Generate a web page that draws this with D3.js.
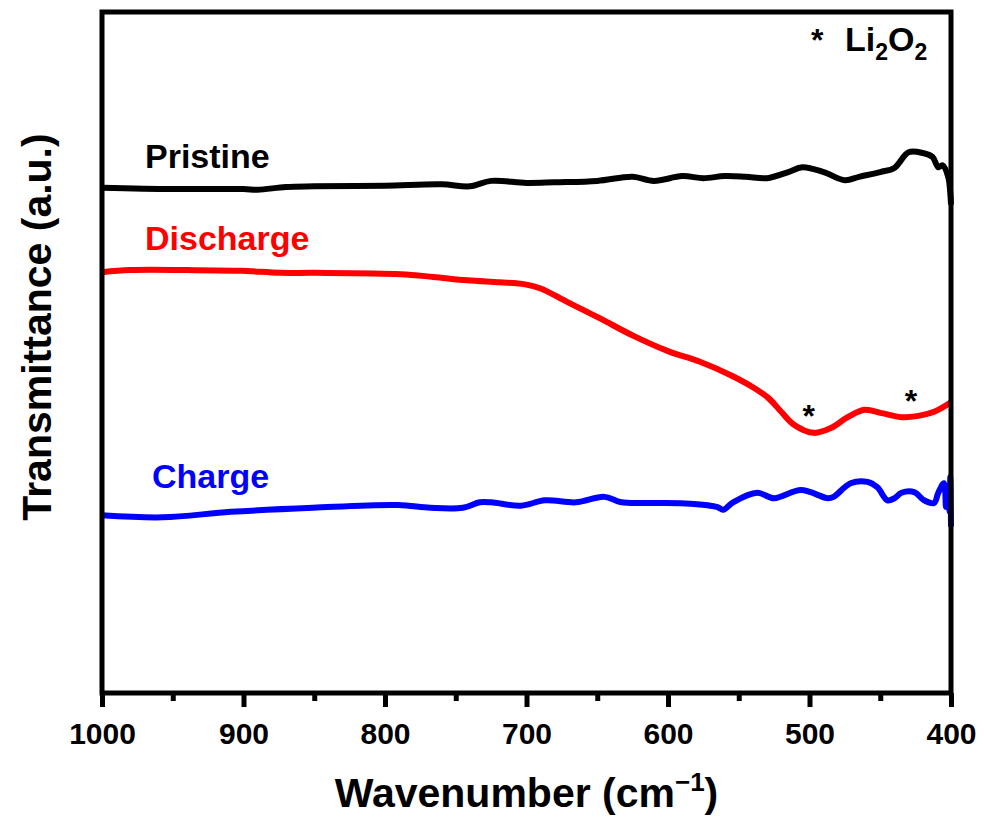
<!DOCTYPE html>
<html>
<head>
<meta charset="utf-8">
<script src="https://cdn.jsdelivr.net/npm/d3@7"></script>
<style>
  body { margin: 0; background: #fff; }
  text { font-family: "Liberation Sans", Arial, sans-serif; font-weight: bold; }
</style>
</head>
<body>
<div id="chart"></div>
<script>
// FTIR spectra, wavenumber (cm-1) vs transmittance (a.u.)
var pristineWn = [1000, 950, 900, 890, 870, 850, 800, 760, 740, 725, 700, 680, 650, 625, 610, 590, 575, 560, 545, 530, 515, 505, 490, 475, 465, 450, 440, 430, 420, 413, 409, 406, 402, 400.5, 400];
var pristineT = [74.2, 74.0, 74.0, 73.9, 74.3, 74.4, 74.5, 74.7, 74.4, 75.2, 74.9, 75.0, 75.2, 75.8, 75.2, 75.9, 75.6, 75.9, 75.8, 75.6, 76.5, 77.2, 76.5, 75.3, 75.8, 76.5, 77.1, 79.4, 79.3, 78.7, 77.2, 77.5, 75.8, 73.4, 71.7];

var dischargeWn = [1000, 980, 940, 902, 874, 849, 789, 766, 742, 719, 701, 690, 671, 648, 624, 600, 577, 556, 540, 529, 520, 511, 497, 485, 473, 461, 449, 435, 423, 412, 400];
var dischargeT = [61.8, 62.1, 62.1, 62.0, 61.7, 61.7, 61.5, 61.1, 60.6, 60.3, 60.0, 59.4, 57.4, 55.0, 52.4, 50.2, 48.6, 46.7, 44.9, 43.3, 41.3, 39.4, 38.2, 38.9, 40.5, 41.6, 41.1, 40.5, 40.7, 41.3, 42.7];

var chargeWn = [1000, 957, 909, 851, 791, 768, 745, 733, 725, 704, 687, 665, 645, 633, 612, 584, 565, 561, 554, 537, 525, 506, 487, 483, 471, 459, 452, 445, 440, 435, 426, 419, 412, 409, 405, 403.5, 402, 401, 400.5, 400];
var chargeT = [26.1, 25.8, 26.6, 27.2, 27.6, 27.2, 27.2, 28.0, 28.0, 27.5, 28.3, 28.0, 28.8, 28.0, 27.9, 27.8, 27.3, 26.9, 28.0, 29.4, 28.6, 29.8, 28.6, 28.8, 30.8, 31.0, 30.2, 28.3, 28.6, 29.4, 29.5, 28.3, 27.9, 29.4, 30.8, 27.3, 29.8, 26.6, 31.7, 24.4];

// Li2O2 peak markers
var markWn = [500.5, 428.3];
var markT = [39.0, 41.3];

var xTicks = [1000, 900, 800, 700, 600, 500, 400];
var xMinor = [950, 850, 750, 650, 550, 450];

var width = 984, height = 822;
var margin = {top: 12, right: 33, bottom: 129, left: 102};

var svg = d3.select("#chart")
    .append("svg")
    .attr("width", width)
    .attr("height", height);

var x = d3.scaleLinear()
    .domain([1000, 400])
    .range([margin.left, width - margin.right]);
var y = d3.scaleLinear()
    .domain([0, 100])
    .range([height - margin.bottom, margin.top]);

var line = d3.line()
    .x(function(d) { return x(d[0]); })
    .y(function(d) { return y(d[1]); })
    .curve(d3.curveCatmullRom.alpha(0.5));

function drawSeries(wn, t, color) {
    svg.append("path")
        .datum(d3.zip(wn, t))
        .attr("fill", "none")
        .attr("stroke", color)
        .attr("stroke-width", 6)
        .attr("stroke-linejoin", "round")
        .attr("d", line);
}

drawSeries(pristineWn, pristineT, "#000000");
drawSeries(dischargeWn, dischargeT, "#ff0000");
drawSeries(chargeWn, chargeT, "#0000ff");

// frame
svg.append("rect")
    .attr("x", margin.left)
    .attr("y", margin.top)
    .attr("width", width - margin.left - margin.right)
    .attr("height", height - margin.top - margin.bottom)
    .attr("fill", "none")
    .attr("stroke", "#000")
    .attr("stroke-width", 5);

// bottom axis
var xAxis = svg.append("g")
    .attr("transform", "translate(0," + (height - margin.bottom) + ")")
    .call(d3.axisBottom(x).tickValues(xTicks).tickSize(14).tickPadding(16).tickFormat(d3.format("d")));
xAxis.select(".domain").remove();
xAxis.selectAll(".tick line").attr("stroke", "#000").attr("stroke-width", 5);
xAxis.selectAll(".tick text")
    .attr("fill", "#000")
    .style("font-size", "30px");

svg.append("g")
    .attr("transform", "translate(0," + (height - margin.bottom) + ")")
    .call(d3.axisBottom(x).tickValues(xMinor).tickSize(8).tickFormat(""))
    .call(function(g) {
        g.select(".domain").remove();
        g.selectAll(".tick line").attr("stroke", "#000").attr("stroke-width", 5);
    });

// axis titles
var xTitle = svg.append("text")
    .attr("x", (margin.left + width - margin.right) / 2)
    .attr("y", 807)
    .attr("text-anchor", "middle")
    .style("font-size", "41px");
xTitle.append("tspan").text("Wavenumber (cm");
xTitle.append("tspan").attr("dy", -16).style("font-size", "26px").text("\u22121");
xTitle.append("tspan").attr("dy", 16).text(")");

svg.append("text")
    .attr("transform", "translate(51,327) rotate(-90)")
    .attr("text-anchor", "middle")
    .style("font-size", "41px")
    .text("Transmittance (a.u.)");

// series labels
svg.append("text").attr("x", 145).attr("y", 168).attr("fill", "#000")
    .style("font-size", "34px").text("Pristine");
svg.append("text").attr("x", 145).attr("y", 250).attr("fill", "#ff0000")
    .style("font-size", "34px").text("Discharge");
svg.append("text").attr("x", 152).attr("y", 488).attr("fill", "#0000ff")
    .style("font-size", "34px").text("Charge");

// peak asterisks
svg.selectAll(".mark")
    .data(d3.zip(markWn, markT))
    .enter()
    .append("text")
    .attr("class", "mark")
    .attr("x", function(d) { return x(d[0]); })
    .attr("y", function(d) { return y(d[1]); })
    .attr("text-anchor", "middle")
    .style("font-size", "32px")
    .text("*");

// Li2O2 key
svg.append("text")
    .attr("x", 811)
    .attr("y", 51)
    .style("font-size", "32px")
    .text("*");
var key = svg.append("text")
    .attr("x", 845)
    .attr("y", 51)
    .style("font-size", "34px");
key.append("tspan").text("Li");
key.append("tspan").attr("dy", 9).style("font-size", "23px").text("2");
key.append("tspan").attr("dy", -9).text("O");
key.append("tspan").attr("dy", 9).style("font-size", "23px").text("2");
</script>
</body>
</html>
